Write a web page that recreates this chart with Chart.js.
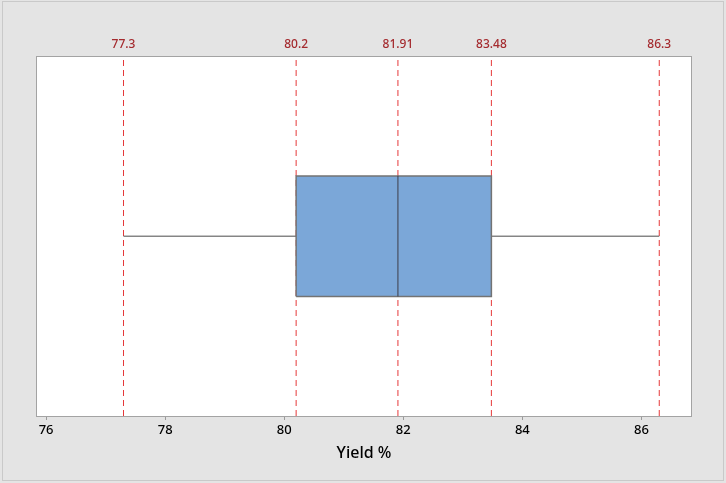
<!DOCTYPE html>
<html>
<head>
<meta charset="utf-8">
<script src="https://cdn.jsdelivr.net/npm/chart.js@4/dist/chart.umd.min.js"></script>
<style>
  html, body { margin: 0; padding: 0; background: #e4e4e4; }
  #wrap { width: 726px; height: 483px; position: relative; }
</style>
</head>
<body>
<div id="wrap"><canvas id="c" width="726" height="483"></canvas></div>
<script>
// Five-number summary of the yield sample
const statNames = ['Minimum', 'Q1', 'Median', 'Q3', 'Maximum'];
const statValues = [77.3, 80.2, 81.91, 83.48, 86.3];
// Bottom axis tick positions
const xTicks = [76, 78, 80, 82, 84, 86];
const axisTitle = 'Yield %';

const [vMin, vQ1, vMed, vQ3, vMax] = statValues;

// Vertical extent of the box inside the (hidden) 0..1 y range
const BOX_LO = 0.332, BOX_HI = 0.667, BOX_MID = (BOX_LO + BOX_HI) / 2;

const FONT = "'Noto Sans', 'Open Sans', sans-serif";
const REF_RED = '#e5383a';

const frame = {
  id: 'frame',
  beforeDraw(chart) {
    const { ctx, chartArea: a } = chart;
    ctx.save();
    ctx.fillStyle = '#e4e4e4';
    ctx.fillRect(0, 0, chart.width, chart.height);
    ctx.strokeStyle = '#c9c9c9';
    ctx.lineWidth = 1;
    ctx.strokeRect(2.5, 1.5, chart.width - 5, chart.height - 4);
    ctx.fillStyle = '#ffffff';
    ctx.fillRect(a.left, a.top, a.right - a.left, a.bottom - a.top);
    ctx.restore();
  },
  afterDraw(chart) {
    const { ctx, chartArea: a } = chart;
    ctx.save();
    ctx.strokeStyle = '#a3a3a3';
    ctx.lineWidth = 1;
    ctx.strokeRect(Math.round(a.left) + 0.5, Math.round(a.top) + 0.5,
                   Math.round(a.right - a.left) - 1, Math.round(a.bottom - a.top));
    ctx.restore();
  }
};

const seg = (x0, y0, x1, y1) => [{ x: x0, y: y0 }, { x: x1, y: y1 }];

const datasets = [
  // median inside the box
  { label: 'Median', data: seg(vMed, BOX_LO, vMed, BOX_HI),
    borderColor: '#3d3d4a', borderWidth: 1, order: 0 },
  // box Q1..Q3
  { label: 'Box', data: [
      { x: vQ1, y: BOX_LO }, { x: vQ3, y: BOX_LO }, { x: vQ3, y: BOX_HI },
      { x: vQ1, y: BOX_HI }, { x: vQ1, y: BOX_LO }],
    borderColor: '#737373', borderWidth: 1.5, backgroundColor: '#7ba7d8',
    fill: 'shape', order: 1 },
  // whiskers
  { label: 'Lower whisker', data: seg(vMin, BOX_MID, vQ1, BOX_MID),
    borderColor: '#4a4a4a', borderWidth: 1, order: 2 },
  { label: 'Upper whisker', data: seg(vQ3, BOX_MID, vMax, BOX_MID),
    borderColor: '#4a4a4a', borderWidth: 1, order: 2 },
  // dashed reference lines at each summary value
  ...statValues.map((v, i) => ({
    label: statNames[i] + ' line', data: seg(v, 0, v, 1),
    borderColor: REF_RED, borderWidth: 1, borderDash: [6, 4], order: 3
  }))
];

new Chart(document.getElementById('c'), {
  type: 'scatter',
  data: { datasets: datasets.map(d => Object.assign({ showLine: true, pointRadius: 0, pointHoverRadius: 0 }, d)) },
  options: {
    responsive: false,
    animation: false,
    layout: { padding: { left: 36, right: 34, top: 0, bottom: 0 } },
    plugins: { legend: { display: false }, tooltip: { enabled: false } },
    scales: {
      x: {
        type: 'linear', position: 'bottom', min: 75.83, max: 86.85,
        afterBuildTicks: s => { s.ticks = xTicks.map(v => ({ value: v })); },
        afterFit: s => { s.height = 67; },
        ticks: { color: '#000000', font: { family: FONT, size: 13, weight: '500' }, padding: 2,
                 maxRotation: 0, autoSkip: false, callback: v => String(v) },
        grid: { drawOnChartArea: false, drawTicks: true, tickLength: 4, color: '#9a9a9a' },
        border: { display: false },
        title: { display: true, text: axisTitle, color: '#000000',
                 font: { family: FONT, size: 16, weight: '500' }, padding: { top: 0, bottom: 20 } }
      },
      xTop: {
        type: 'linear', position: 'top', min: 75.83, max: 86.85,
        afterBuildTicks: s => { s.ticks = statValues.map(v => ({ value: v })); },
        afterFit: s => { s.height = 56; },
        ticks: { color: '#a42a2e', font: { family: FONT, size: 12, weight: '500' }, padding: 4,
                 maxRotation: 0, autoSkip: false, callback: v => String(v) },
        grid: { display: false, drawTicks: false },
        border: { display: false }
      },
      y: { type: 'linear', min: 0, max: 1, display: false }
    }
  },
  plugins: [frame]
});
</script>
</body>
</html>
